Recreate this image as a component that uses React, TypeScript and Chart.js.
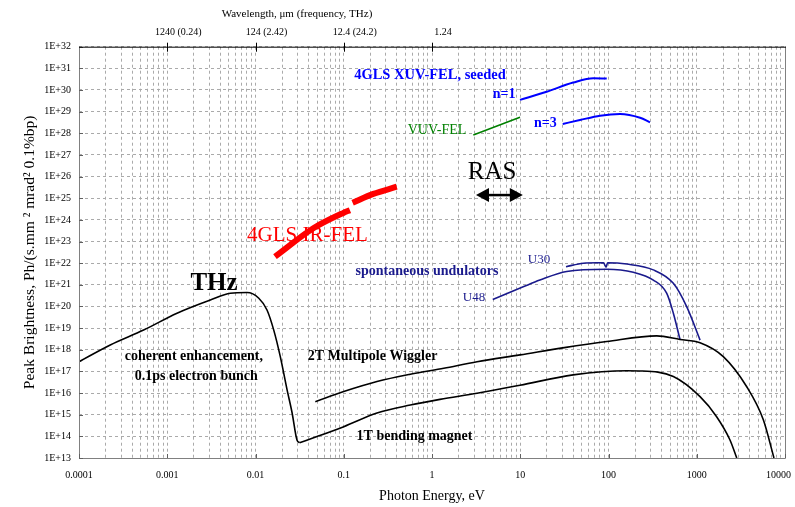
import React, { useEffect, useRef } from 'react';
import { Chart, registerables } from 'chart.js';

Chart.register(...registerables);

const SERIF = "'Liberation Serif', 'Times New Roman', 'DejaVu Serif', serif";
const NAVY = '#1a1a8c';
const BLUE = '#0000ff';
const GREEN = '#008000';
const RED = '#ff0000';
const GRID = '#aaaaaa';

// ---- axis tick definitions ----
const xDecades = [1e-4, 1e-3, 1e-2, 1e-1, 1, 10, 100, 1000, 10000];
const xTickLabels = ['0.0001', '0.001', '0.01', '0.1', '1', '10', '100', '1000', '10000'];
const yDecades = [1e13, 1e14, 1e15, 1e16, 1e17, 1e18, 1e19, 1e20, 1e21, 1e22, 1e23, 1e24, 1e25, 1e26, 1e27, 1e28, 1e29, 1e30, 1e31, 1e32];
const yTickLabels = ['1E+13', '1E+14', '1E+15', '1E+16', '1E+17', '1E+18', '1E+19', '1E+20', '1E+21', '1E+22', '1E+23', '1E+24', '1E+25', '1E+26', '1E+27', '1E+28', '1E+29', '1E+30', '1E+31', '1E+32'];
const topTickValues = [1e-3, 1e-2, 1e-1, 1];
const topTickLabels = ['1240 (0.24)', '124 (2.42)', '12.4 (24.2)', '1.24'];

// ---- series (photon energy eV, peak brightness) ----
const coherentE = [1.0e-4, 2.26e-4, 5.4e-4, 1.29e-3, 3.08e-3, 5.19e-3, 8.0e-3, 1.09e-2, 1.35e-2, 1.61e-2, 1.91e-2, 2.28e-2, 2.6e-2, 2.95e-2, 3.16e-2];
const coherentB = [2.8e17, 1.66e18, 8.1e18, 4.9e19, 2.0e20, 4.1e20, 4.4e20, 2.4e20, 6.9e19, 8.1e18, 4.8e17, 1.4e16, 1.2e15, 6.8e13, 5.1e13];

const bendingE = [3.16e-2, 4.98e-2, 0.1, 0.238, 0.568, 1.23, 3.24, 9.93, 39.8, 161, 228, 543, 1090, 1680, 2380, 2840];
const bendingB = [5.1e13, 9.8e13, 2.8e14, 1.2e15, 2.8e15, 5.1e15, 9.8e15, 2.3e16, 6.9e16, 1.07e17, 1.05e17, 5.8e16, 6.8e15, 8.1e14, 6.8e13, 1.0e13];

const wigglerE = [0.0476, 0.1, 0.238, 0.568, 1.36, 3.24, 9.93, 31.6, 95.3, 352, 646, 1090, 2000, 3670, 5680, 7500];
const wigglerB = [4.0e15, 1.17e16, 3.4e16, 7.4e16, 1.41e17, 2.8e17, 5.8e17, 1.26e18, 2.4e18, 4.4e18, 3.0e18, 2.1e18, 4.8e17, 2.0e16, 5.8e14, 1.0e13];

const u48E = [4.88, 10.8, 16.7, 33.6, 95.3, 191, 322, 456, 543, 646];
const u48B = [2.1e20, 8.1e20, 1.66e21, 4.1e21, 5.2e21, 3.8e21, 1.66e21, 4.1e20, 4.9e19, 3.0e18];

const u30E = [33, 51.9, 73.5, 88, 93.8, 97.7, 161, 322, 543, 769, 1090];
const u30B = [6.9e21, 1.0e22, 1.05e22, 1.03e22, 6.5e21, 1.05e22, 9.1e21, 4.9e21, 1.17e21, 9.8e19, 2.8e18];

const xuv1E = [9.93, 19.9, 39.8, 67.3, 95.5];
const xuv1B = [3.5e29, 8.3e29, 2.2e30, 3.5e30, 3.4e30];

const xuv3E = [30.3, 47.5, 80.2, 135, 228, 295];
const xuv3B = [2.7e28, 4.1e28, 6.5e28, 7.8e28, 5.2e28, 3.2e28];

const vuvE = [2.94, 9.93];
const vuvB = [8.3e27, 5.5e28];

const irfel1E = [0.01663, 0.0452, 0.0989, 0.1175];
const irfel1B = [2.0e22, 4.1e23, 2.1e24, 2.8e24];
const irfel2E = [0.126, 0.216, 0.398];
const irfel2B = [6.2e24, 1.58e25, 3.4e25];

// ---- annotation labels (anchored in data units) ----
const labelTexts = ['THz', '4GLS IR-FEL', 'RAS', 'spontaneous undulators', 'U30', 'U48', '4GLS XUV-FEL, seeded', 'n=1', 'n=3', 'VUV-FEL', 'coherent enhancement,', '0.1ps electron bunch', '2T Multipole Wiggler', '1T bending magnet'];
const labelE = [3.39e-3, 3.88e-2, 4.79, 0.877, 16.3, 2.99, 0.948, 6.55, 19.3, 1.14, 2.0e-3, 2.13e-3, 0.212, 0.634];
const labelB = [1.1e21, 1.82e23, 1.62e26, 4.4e21, 1.41e22, 2.45e20, 4.9e30, 6.6e29, 3.0e28, 1.41e28, 5.1e17, 6.2e16, 5.1e17, 1.05e14];
const labelStyles = [
  { font: `bold 25px ${SERIF}`, color: '#000' },
  { font: `21px ${SERIF}`, color: RED },
  { font: `25px ${SERIF}`, color: '#000' },
  { font: `bold 14px ${SERIF}`, color: NAVY },
  { font: `13px ${SERIF}`, color: NAVY },
  { font: `13px ${SERIF}`, color: NAVY },
  { font: `bold 14.5px ${SERIF}`, color: BLUE },
  { font: `bold 14px ${SERIF}`, color: BLUE },
  { font: `bold 14px ${SERIF}`, color: BLUE },
  { font: `14px ${SERIF}`, color: GREEN },
  { font: `bold 14px ${SERIF}`, color: '#000' },
  { font: `bold 14px ${SERIF}`, color: '#000' },
  { font: `bold 14px ${SERIF}`, color: '#000' },
  { font: `bold 14px ${SERIF}`, color: '#000' },
];

// RAS double arrow (eV range at a brightness level)
const arrowE = [3.15, 10.7];
const arrowB = 1.4e25;

const pts = (xs: number[], ys: number[]) => xs.map((x, i) => ({ x, y: ys[i] }));

const overlayPlugin = {
  id: 'overlay',
  afterDatasetsDraw(chart: any) {
    const { ctx, chartArea, scales, width } = chart;
    const xs = scales.x;
    const ys = scales.y;
    ctx.save();
    // frame
    ctx.lineWidth = 1;
    ctx.strokeStyle = '#808080';
    ctx.beginPath();
    ctx.moveTo(chartArea.left + 0.5, chartArea.top);
    ctx.lineTo(chartArea.left + 0.5, chartArea.bottom + 0.5);
    ctx.lineTo(chartArea.right + 0.5, chartArea.bottom + 0.5);
    ctx.lineTo(chartArea.right + 0.5, chartArea.top);
    ctx.stroke();
    // short inner tick marks on left and bottom axes
    ctx.strokeStyle = '#606060';
    yDecades.forEach((d) => {
      const py = Math.round(ys.getPixelForValue(d)) + 0.5;
      ctx.beginPath();
      ctx.moveTo(chartArea.left, py);
      ctx.lineTo(chartArea.left + 4, py);
      ctx.stroke();
    });
    xDecades.forEach((d) => {
      const px = Math.round(xs.getPixelForValue(d)) + 0.5;
      ctx.beginPath();
      ctx.moveTo(px, chartArea.bottom);
      ctx.lineTo(px, chartArea.bottom - 4);
      ctx.stroke();
    });
    ctx.strokeStyle = '#000';
    ctx.beginPath();
    ctx.moveTo(chartArea.left, chartArea.top + 0.5);
    ctx.lineTo(chartArea.right + 1, chartArea.top + 0.5);
    ctx.stroke();
    // top axis tick marks (crossing)
    const x2 = scales.x2;
    topTickValues.forEach((v) => {
      const px = Math.round(x2.getPixelForValue(v)) + 0.5;
      ctx.beginPath();
      ctx.moveTo(px, chartArea.top - 4);
      ctx.lineTo(px, chartArea.top + 5);
      ctx.stroke();
    });
    // bottom tick labels (kept inside the canvas)
    ctx.fillStyle = '#000';
    ctx.font = `10px ${SERIF}`;
    ctx.textAlign = 'center';
    ctx.textBaseline = 'middle';
    xDecades.forEach((d, i) => {
      const w = ctx.measureText(xTickLabels[i]).width;
      let px = xs.getPixelForValue(d);
      px = Math.min(px, width - 4 - w / 2);
      ctx.fillText(xTickLabels[i], px, chartArea.bottom + 17);
    });
    // annotation labels
    labelTexts.forEach((t, i) => {
      ctx.font = labelStyles[i].font;
      ctx.fillStyle = labelStyles[i].color;
      ctx.fillText(t, xs.getPixelForValue(labelE[i]), ys.getPixelForValue(labelB[i]));
    });
    // double arrow
    const ax1 = xs.getPixelForValue(arrowE[0]);
    const ax2 = xs.getPixelForValue(arrowE[1]);
    const ay = ys.getPixelForValue(arrowB);
    ctx.strokeStyle = '#000';
    ctx.fillStyle = '#000';
    ctx.lineWidth = 2.5;
    ctx.beginPath();
    ctx.moveTo(ax1 + 8, ay);
    ctx.lineTo(ax2 - 8, ay);
    ctx.stroke();
    ctx.beginPath();
    ctx.moveTo(ax1, ay);
    ctx.lineTo(ax1 + 13, ay - 7);
    ctx.lineTo(ax1 + 13, ay + 7);
    ctx.closePath();
    ctx.fill();
    ctx.beginPath();
    ctx.moveTo(ax2, ay);
    ctx.lineTo(ax2 - 13, ay - 7);
    ctx.lineTo(ax2 - 13, ay + 7);
    ctx.closePath();
    ctx.fill();
    // top and bottom axis titles
    ctx.fillStyle = '#000';
    ctx.font = `11px ${SERIF}`;
    ctx.fillText('Wavelength, \u03bcm (frequency, THz)', chartArea.left + 218, 14);
    ctx.font = `14px ${SERIF}`;
    ctx.fillText('Photon Energy, eV', (chartArea.left + chartArea.right) / 2, 496);
    ctx.restore();
  },
};

export default function App() {
  const ref = useRef<HTMLCanvasElement | null>(null);
  useEffect(() => {
    document.body.style.margin = '0';
    const canvas = ref.current;
    if (!canvas) return;
    const line = (data: any[], color: string, width: number) => ({
      data,
      borderColor: color,
      backgroundColor: color,
      borderWidth: width,
      pointRadius: 0,
      fill: false,
      cubicInterpolationMode: 'monotone' as const,
    });
    const chart = new Chart(canvas, {
      type: 'line',
      data: {
        datasets: [
          line(pts(coherentE, coherentB), '#000', 1.6),
          line(pts(bendingE, bendingB), '#000', 1.6),
          line(pts(wigglerE, wigglerB), '#000', 1.6),
          line(pts(u48E, u48B), NAVY, 1.6),
          line(pts(u30E, u30B), NAVY, 1.6),
          line(pts(xuv1E, xuv1B), BLUE, 2),
          line(pts(xuv3E, xuv3B), BLUE, 2),
          line(pts(vuvE, vuvB), GREEN, 1.6),
          line(pts(irfel1E, irfel1B), RED, 6),
          line(pts(irfel2E, irfel2B), RED, 6),
        ],
      },
      options: {
        animation: false,
        responsive: true,
        maintainAspectRatio: false,
        layout: { padding: { left: 0, right: 10, top: 0, bottom: 0 } },
        plugins: { legend: { display: false }, tooltip: { enabled: false }, title: { display: false } },
        scales: {
          x: {
            type: 'logarithmic',
            position: 'bottom',
            min: 1e-4,
            max: 1e4,
            afterBuildTicks: (scale: any) => {
              const t: any[] = [];
              xDecades.forEach((d, i) => {
                if (i === xDecades.length - 1) { t.push({ value: d }); return; }
                for (let m = 1; m <= 9; m++) t.push({ value: m * d });
              });
              scale.ticks = t;
            },
            afterFit: (scale: any) => {
              scale.height = 49;
              scale.paddingLeft = 0;
              scale.paddingRight = 0;
            },
            ticks: { display: false, autoSkip: false, maxRotation: 0 },
            grid: { color: GRID, lineWidth: 1, drawTicks: false },
            border: { display: false, dash: [3, 3] },
          },
          x2: {
            type: 'logarithmic',
            position: 'top',
            min: 1e-4,
            max: 1e4,
            afterBuildTicks: (scale: any) => { scale.ticks = topTickValues.map((v) => ({ value: v })); },
            afterFit: (scale: any) => {
              scale.height = 46.7;
              scale.paddingLeft = 0;
              scale.paddingRight = 0;
            },
            ticks: {
              autoSkip: false,
              maxRotation: 0,
              padding: 8,
              labelOffset: 11,
              color: '#000',
              font: { family: SERIF, size: 10 },
              callback: (_v: any, i: number) => topTickLabels[i],
            },
            grid: { display: false, drawTicks: false },
            border: { display: false },
          },
          y: {
            type: 'logarithmic',
            position: 'left',
            min: 1e13,
            max: 1e32,
            afterBuildTicks: (scale: any) => { scale.ticks = yDecades.map((v) => ({ value: v })); },
            afterFit: (scale: any) => { scale.width = 79; },
            ticks: {
              autoSkip: false,
              padding: 8,
              color: '#000',
              font: { family: SERIF, size: 10 },
              callback: (_v: any, i: number) => yTickLabels[i],
            },
            grid: { color: GRID, lineWidth: 1, drawTicks: false },
            border: { display: false, dash: [3, 3] },
            title: {
              display: true,
              text: 'Peak Brightness, Ph/(s.mm \u00b2 mrad\u00b2 0.1%bp)',
              color: '#000',
              font: { family: SERIF, size: 15.5 },
              padding: { top: 21, bottom: 0 },
            },
          },
        },
      },
      plugins: [overlayPlugin],
    });
    return () => chart.destroy();
  }, []);
  return (
    <div style={{ position: 'relative', width: 795, height: 507, background: '#fff' }}>
      <canvas ref={ref} />
    </div>
  );
}
